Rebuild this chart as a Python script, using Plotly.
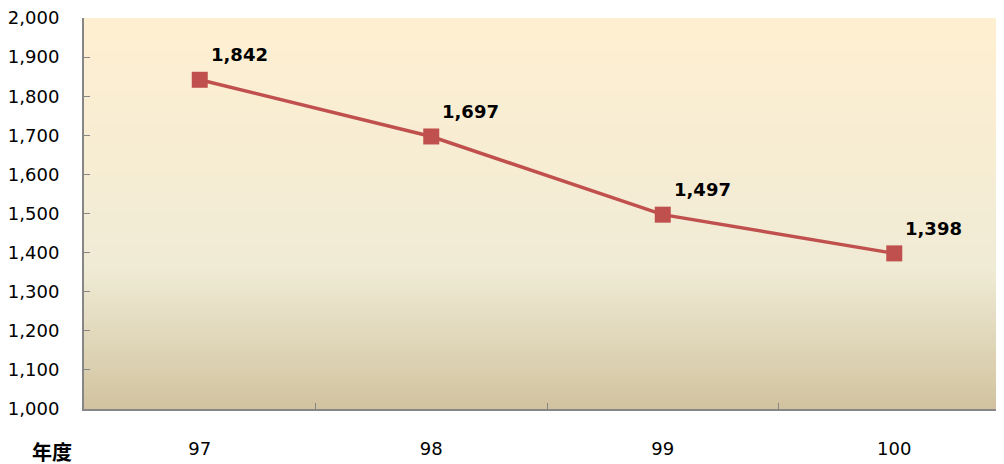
import plotly.graph_objects as go

years = ["97", "98", "99", "100"]
values = [1842, 1697, 1497, 1398]
y_ticks = list(range(1000, 2001, 100))
y_tick_text = [f"{v:,}" for v in y_ticks]

# Parchment gradient (top -> bottom)
stops = [(0.0, (0xFF, 0xEF, 0xD1)), (0.64, (0xF0, 0xEB, 0xD5)), (1.0, (0xD1, 0xC3, 0x9F))]

def color_at(t):
    for (t0, c0), (t1, c1) in zip(stops[:-1], stops[1:]):
        if t0 <= t <= t1:
            f = (t - t0) / (t1 - t0)
            return "rgb(%d,%d,%d)" % tuple(round(a + (b - a) * f) for a, b in zip(c0, c1))
    return "rgb(%d,%d,%d)" % stops[-1][1]

n = 120
shapes = []
for i in range(n):
    t = (i + 0.5) / n
    shapes.append(dict(type="rect", xref="x domain", yref="y domain",
                       x0=0, x1=1, y0=1 - (i + 1) / n - 0.002, y1=1 - i / n,
                       fillcolor=color_at(t), line=dict(width=0), layer="below"))

fig = go.Figure()
fig.add_trace(go.Scatter(
    x=years, y=values, mode="lines+markers",
    line=dict(color="#C0504D", width=3.5),
    marker=dict(symbol="square", size=16, color="#C0504D"),
    hoverinfo="skip", showlegend=False,
))

annotations = [
    dict(x=i, y=v, xref="x", yref="y", text=f"<b>{v:,}</b>", showarrow=False,
         xanchor="left", yanchor="middle", xshift=9, yshift=25,
         font=dict(family="DejaVu Sans", size=18, color="#000000"))
    for i, v in enumerate(values)
]
annotations.append(dict(x=(52 - 84) / 920, y=(409 - 451) / 391, xref="paper", yref="paper",
                        text="<b>年度</b>", showarrow=False, height=24, valign="middle",
                        xanchor="center", yanchor="middle",
                        font=dict(family="Noto Sans CJK TC", size=20, color="#000000")))

# page body has an 8px margin, so the figure is offset by 8px
fig.update_layout(
    width=996, height=456,
    margin=dict(l=76, r=0, t=10, b=55),
    paper_bgcolor="white", plot_bgcolor="rgba(0,0,0,0)",
    shapes=shapes, annotations=annotations,
    xaxis=dict(type="category", range=[-0.5, 3.474], showgrid=False, automargin=False,
               showline=True, linecolor="#868686", linewidth=2,
               ticks="inside", tickson="boundaries", ticklen=6, tickcolor="#868686", tickwidth=1,
               ticklabelstandoff=22,
               tickfont=dict(family="DejaVu Sans", size=18, color="#000000")),
    yaxis=dict(range=[1000, 2000], tickvals=y_ticks, ticktext=y_tick_text, showgrid=False,
               automargin=False, ticklabeloverflow="allow",
               showline=True, linecolor="#868686", linewidth=2,
               ticks="inside", ticklen=6, tickcolor="#868686", tickwidth=1,
               ticklabelstandoff=19, zeroline=False,
               tickfont=dict(family="DejaVu Sans", size=18, color="#000000")),
)

fig.write_html("out.html")
